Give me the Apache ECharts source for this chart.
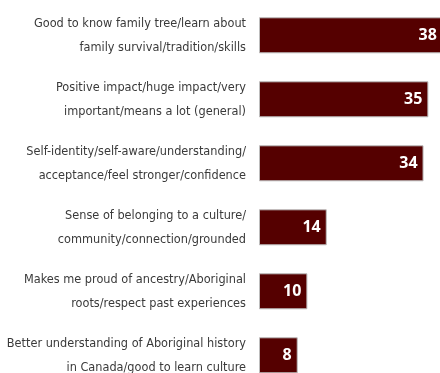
<!DOCTYPE html>
<html>
<head>
<meta charset="utf-8">
<script src="https://cdn.jsdelivr.net/npm/echarts@6/dist/echarts.min.js"></script>
<style>
  html, body { margin: 0; padding: 0; background: #ffffff; }
  #chart { width: 440px; height: 373px; }
</style>
</head>
<body>
<div id="chart"></div>
<script>
// Reasons respondents gave (two-line labels), percent of mentions
const categories = [
  'Good to know family tree/learn about\nfamily survival/tradition/skills',
  'Positive impact/huge impact/very\nimportant/means a lot (general)',
  'Self-identity/self-aware/understanding/\nacceptance/feel stronger/confidence',
  'Sense of belonging to a culture/\ncommunity/connection/grounded',
  'Makes me proud of ancestry/Aboriginal\nroots/respect past experiences',
  'Better understanding of Aboriginal history\nin Canada/good to learn culture'
];
const values = [38, 35, 34, 14, 10, 8];

const chart = echarts.init(document.getElementById('chart'), null, { renderer: 'canvas' });

chart.setOption({
  animation: false,
  backgroundColor: '#ffffff',
  grid: {
    left: 259, top: 3.3, width: 193.6, height: 384,
    containLabel: false,
    outerBoundsMode: 'none'
  },
  xAxis: {
    type: 'value',
    min: 0,
    max: 40,
    show: false
  },
  yAxis: {
    type: 'category',
    data: categories,
    inverse: true,
    axisLine: { show: false },
    axisTick: { show: false },
    splitLine: { show: false },
    axisLabel: {
      margin: 13,
      align: 'right',
      color: '#3a3a3a',
      fontFamily: '"DejaVu Sans Condensed", sans-serif',
      fontSize: 12.6,
      lineHeight: 24
    }
  },
  series: [{
    type: 'bar',
    data: values,
    barWidth: 36,
    itemStyle: {
      color: '#550000',
      borderColor: '#bdbdbd',
      borderWidth: 1
    },
    label: {
      show: true,
      position: 'insideRight',
      distance: 6,
      color: '#ffffff',
      fontFamily: '"Open Sans", sans-serif',
      fontWeight: 'bold',
      fontSize: 16
    }
  }]
});
</script>
</body>
</html>
